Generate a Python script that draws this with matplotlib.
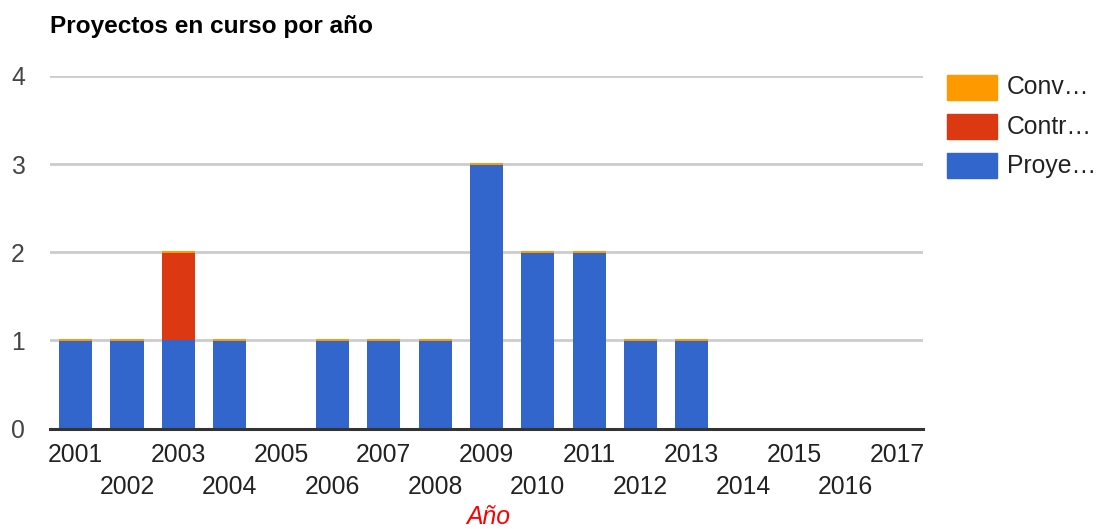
import numpy as np
import matplotlib
matplotlib.use("Agg")
import matplotlib.pyplot as plt
from matplotlib.patches import Rectangle

plt.rcParams['font.family'] = ['Liberation Sans', 'DejaVu Sans']

# datos
anios = [str(a) for a in range(2001, 2018)]
proyectos = [1, 1, 1, 1, 0, 1, 1, 1, 3, 2, 2, 1, 1, 0, 0, 0, 0]
contratos = [0, 0, 1, 0, 0, 0, 0, 0, 0, 0, 0, 0, 0, 0, 0, 0, 0]
convenios = [0, 0, 0, 0, np.nan, 0, 0, 0, 0, 0, 0, 0, 0, np.nan, np.nan, np.nan, np.nan]
series = ['Conv…', 'Contr…', 'Proye…']
colores = ['#ff9900', '#dc3912', '#3366cc']
yticks = [0, 1, 2, 3, 4]

W, H = 1098, 529
fig = plt.figure(figsize=(W / 100, H / 100), dpi=100)
ax = fig.add_axes([50 / W, 1 - 428.5 / H, 872.7 / W, 352.5 / H])

x = np.arange(len(anios))
ancho = 0.643
prj = np.array(proyectos, dtype=float)
con = np.array(contratos, dtype=float)
conv = np.array(convenios, dtype=float)

ax.bar(x, prj, width=ancho, color=colores[2], zorder=3)
ax.bar(x, con, bottom=prj, width=ancho, color=colores[1], zorder=3)
# los convenios valen 0: google los marca con una raya fina
ax.bar(x, conv, bottom=prj + con, width=ancho, color=colores[0],
       edgecolor=colores[0], linewidth=1.4, zorder=4)

ax.set_xlim(-0.5, len(anios) - 0.5)
ax.set_ylim(0, 4)
ax.set_yticks(yticks)
ax.set_yticklabels([str(v) for v in yticks])
ax.yaxis.grid(True, color='#cccccc', linewidth=2.0, zorder=0)
ax.axhline(0, color='#333333', linewidth=2.2, zorder=5, clip_on=False)
for s in ax.spines.values():
    s.set_visible(False)

fs = 17.8
ax.tick_params(axis='y', length=0, pad=18, labelsize=fs, labelcolor='#444444')

# etiquetas del eje x en dos filas
ax.set_xticks(x[::2])
ax.set_xticklabels(anios[::2])
ax.set_xticks(x[1::2], minor=True)
ax.set_xticklabels(anios[1::2], minor=True)
ax.tick_params(axis='x', which='major', length=0, pad=10.5, labelsize=fs, labelcolor='#222222')
ax.tick_params(axis='x', which='minor', length=0, pad=33.5, labelsize=fs, labelcolor='#222222')

fig.text(50 / W, 1 - 33 / H, 'Proyectos en curso por año', fontsize=17.6,
         fontweight='bold', color='#000000', va='baseline', ha='left')
fig.text(488 / W, 1 - 524 / H, 'Año', fontsize=fs, style='italic',
         color='#ff0000', va='baseline', ha='center')

# leyenda
centros = [87.5, 126.5, 165.5]
for nombre, col, cy in zip(series, colores, centros):
    fig.patches.append(Rectangle((947 / W, 1 - (cy + 12.5) / H), 50 / W, 25 / H,
                                 transform=fig.transFigure, color=col))
    fig.text(1007 / W, 1 - cy / H, nombre, fontsize=fs, color='#222222',
             va='center', ha='left')

fig.savefig('out.png', dpi=100)
